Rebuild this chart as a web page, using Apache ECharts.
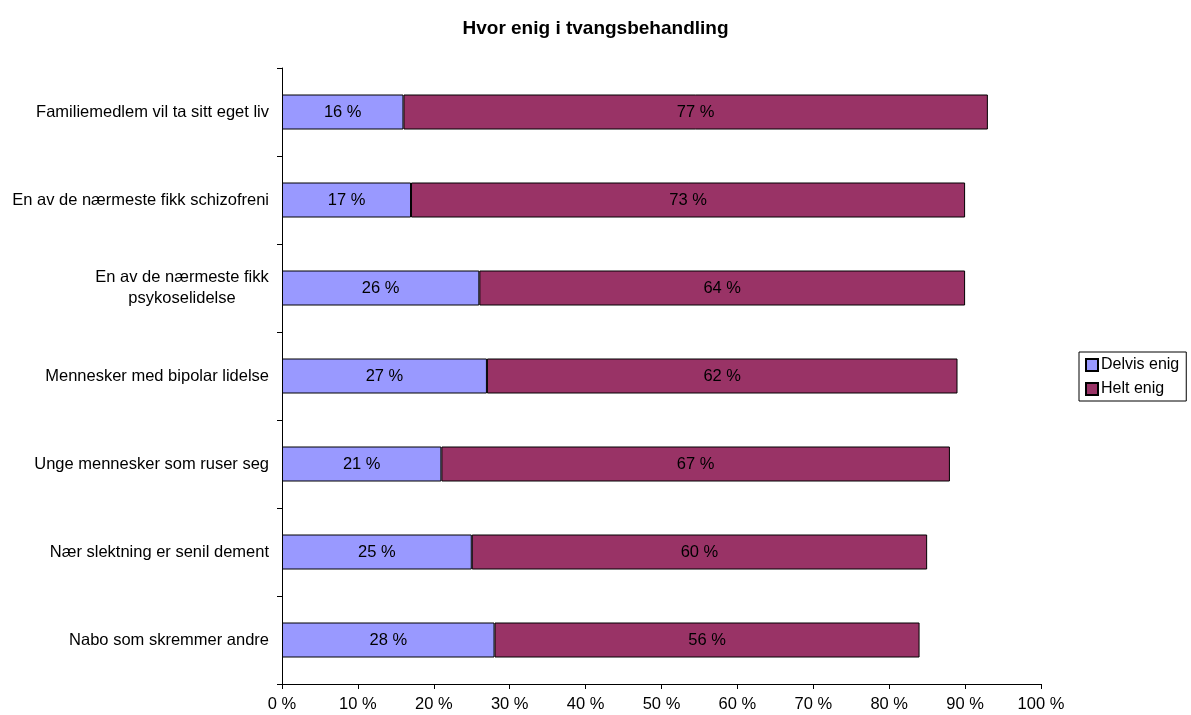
<!DOCTYPE html>
<html>
<head>
<meta charset="utf-8">
<script src="https://cdn.jsdelivr.net/npm/echarts@6/dist/echarts.min.js"></script>
<style>
  html, body { margin: 0; padding: 0; background: #fff; }
  #chart { width: 1191px; height: 715px; }
</style>
</head>
<body>
<div id="chart"></div>
<script>
// Kategorier (ovenfra og ned)
var kategorier = [
    'Familiemedlem vil ta sitt eget liv',
    'En av de nærmeste fikk schizofreni',
    'En av de nærmeste fikk\npsykoselidelse',
    'Mennesker med bipolar lidelse',
    'Unge mennesker som ruser seg',
    'Nær slektning er senil dement',
    'Nabo som skremmer andre'
];
var delvisEnig = [16, 17, 26, 27, 21, 25, 28];
var heltEnig = [77, 73, 64, 62, 67, 60, 56];
var xTicks = [0, 10, 20, 30, 40, 50, 60, 70, 80, 90, 100];

var font = 'Liberation Sans, Arial, sans-serif';
var fs = 16.5;

var chart = echarts.init(document.getElementById('chart'));

var option = {
    animation: false,
    backgroundColor: '#fff',
    title: {
        text: 'Hvor enig i tvangsbehandling',
        left: 'center',
        top: 14,
        textStyle: { fontFamily: font, fontSize: 19, fontWeight: 'bold', color: '#000' }
    },
    legend: {
        orient: 'vertical',
        left: 1079,
        top: 352,
        padding: [5, 7, 4, 6],
        borderColor: '#000',
        borderWidth: 1,
        itemWidth: 12,
        itemHeight: 12,
        itemGap: 8,
        icon: 'rect',
        textStyle: { fontFamily: font, fontSize: 16, color: '#000', padding: [0, 0, 0, -2] },
        data: ['Delvis enig', 'Helt enig']
    },
    grid: {
        left: 282,
        right: 150,
        top: 68,
        bottom: 31,
        containLabel: false
    },
    xAxis: {
        type: 'value',
        min: xTicks[0],
        max: xTicks[xTicks.length - 1],
        interval: 10,
        splitLine: { show: false },
        axisLine: { show: true, lineStyle: { color: '#000', width: 1 } },
        axisTick: { show: true, length: 5, lineStyle: { color: '#000' } },
        axisLabel: {
            formatter: '{value} %',
            fontFamily: font,
            fontSize: fs,
            color: '#000',
            margin: 12
        }
    },
    yAxis: {
        type: 'category',
        inverse: true,
        data: kategorier,
        axisLine: { show: true, lineStyle: { color: '#000', width: 1 } },
        axisTick: { show: true, length: 5, inside: false, lineStyle: { color: '#000' } },
        axisLabel: {
            fontFamily: font,
            fontSize: fs,
            color: '#000',
            margin: 13,
            lineHeight: 21,
            formatter: function (v) {
                // to-linjers etikett sentreres linje for linje
                if (v.indexOf('\n') >= 0) {
                    return v.split('\n').map(function (l) { return '{w|' + l + '}'; }).join('\n');
                }
                return v;
            },
            rich: {
                w: { width: 174, align: 'center', fontFamily: font, fontSize: fs, color: '#000', lineHeight: 21 }
            }
        }
    },
    series: [
        {
            name: 'Delvis enig',
            type: 'bar',
            stack: 'total',
            barWidth: 35,
            data: delvisEnig,
            itemStyle: { color: '#9999FF', borderColor: '#000', borderWidth: 1 },
            label: {
                show: true,
                position: 'inside',
                formatter: '{c} %',
                fontFamily: font,
                fontSize: fs,
                color: '#000'
            }
        },
        {
            name: 'Helt enig',
            type: 'bar',
            stack: 'total',
            barWidth: 35,
            data: heltEnig,
            itemStyle: { color: '#993366', borderColor: '#000', borderWidth: 1 },
            label: {
                show: true,
                position: 'inside',
                formatter: '{c} %',
                fontFamily: font,
                fontSize: fs,
                color: '#000'
            }
        }
    ]
};

chart.setOption(option);
</script>
</body>
</html>
